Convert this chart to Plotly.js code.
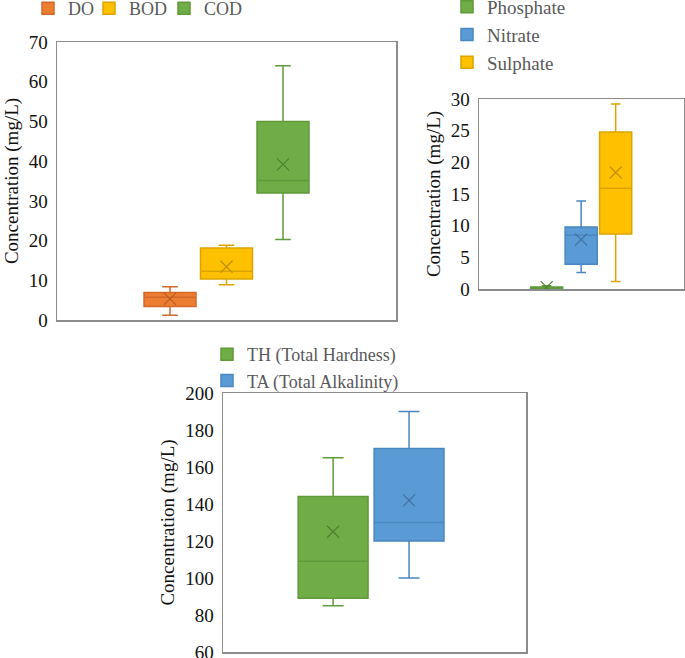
<!DOCTYPE html>
<html>
<head>
<meta charset="utf-8">
<script src="https://cdn.plot.ly/plotly-3.0.1.min.js"></script>
<style>
  html, body { margin: 0; padding: 0; background: #fff; }
  #chart { width: 685px; height: 658px; }
</style>
</head>
<body>
<div id="chart"></div>
<script>
// panel 1 : DO, BOD, COD
const names1 = ["DO", "BOD", "COD"];
const min1 = [1.2, 8.9, 20.3];
const q1_1 = [3.4, 10.3, 32.0];
const med1 = [5.7, 12.3, 35.1];
const q3_1 = [6.9, 18.1, 50.0];
const max1 = [8.4, 18.8, 64.0];
const mean1 = [5.3, 13.4, 39.2];

// panel 2 : anions
const names2 = ["Phosphate", "Nitrate", "Sulphate"];
const min2 = [0.05, 2.6, 1.2];
const q1_2 = [0.1, 3.9, 8.7];
const med2 = [0.2, 8.5, 15.9];
const q3_2 = [0.3, 9.8, 24.8];
const max2 = [0.5, 13.9, 29.2];
const mean2 = [0.3, 7.8, 18.4];

// panel 3 : hardness / alkalinity
const names3 = ["TH (Total Hardness)", "TA (Total Alkalinity)"];
const min3 = [85, 100];
const q1_3 = [89, 120];
const med3 = [109, 130];
const q3_3 = [144, 170];
const max3 = [165, 190];
const mean3 = [125, 142];

const FILL = { DO: "#ED7D31", BOD: "#FFC000", COD: "#70AD47",
               Phosphate: "#70AD47", Nitrate: "#5B9BD5", Sulphate: "#FFC000",
               "TH (Total Hardness)": "#70AD47", "TA (Total Alkalinity)": "#5B9BD5" };
const EDGE = { "#ED7D31": "#D2692A", "#FFC000": "#DDA400", "#70AD47": "#5E9A3A", "#5B9BD5": "#4A86C0" };
const MEANC = { "#ED7D31": "#B85A20", "#FFC000": "#C09000", "#70AD47": "#4E8030", "#5B9BD5": "#3E70A0" };

const SERIF = "Liberation Serif";
const DIV = document.querySelector("#chart");

let data = [];

// legends: one per entry for the top row, so each can sit where the original has it
function addPanel(names, mins, q1s, meds, q3s, maxs, means, xa, ya, legends, width) {
    names.forEach((name, i) => {
        let fill = FILL[name];
        let edge = EDGE[fill];
        data.push({
            type: "box",
            name: name,
            x: [i + 1],
            lowerfence: [mins[i]],
            q1: [q1s[i]],
            median: [meds[i]],
            q3: [q3s[i]],
            upperfence: [maxs[i]],
            width: width,
            whiskerwidth: 0.3,
            fillcolor: fill,
            line: { color: edge, width: 1.5 },
            xaxis: xa, yaxis: ya,
            legend: legends[i],
            hoverinfo: "skip"
        });
        data.push({
            type: "scatter",
            mode: "markers",
            x: [i + 1],
            y: [means[i]],
            marker: { symbol: "x-thin-open", size: 12, color: MEANC[fill], line: { color: MEANC[fill], width: 1.2 } },
            xaxis: xa, yaxis: ya,
            showlegend: false,
            hoverinfo: "skip"
        });
    });
}

addPanel(names1, min1, q1_1, med1, q3_1, max1, mean1, "x", "y", ["legend", "legend4", "legend5"], 0.92);
addPanel(names2, min2, q1_2, med2, q3_2, max2, mean2, "x2", "y2", ["legend2", "legend2", "legend2"], 0.93);
addPanel(names3, min3, q1_3, med3, q3_3, max3, mean3, "x3", "y3", ["legend3", "legend3"], 0.92);

const W = 685, H = 658;
const dx = (a, b) => [a / W, b / W];
const dy = (top, bottom) => [1 - bottom / H, 1 - top / H];

function xAxis(domain, range, anchor) {
    return {
        domain: domain, range: range, anchor: anchor,
        showticklabels: false, showgrid: false, zeroline: false,
        showline: true, mirror: true, linecolor: "#8C8C8C", linewidth: 1.5,
        ticks: "", fixedrange: true
    };
}
function yAxis(domain, range, dtick, anchor) {
    return {
        domain: domain, range: range, dtick: dtick, anchor: anchor,
        showgrid: false, zeroline: false,
        showline: true, mirror: true, linecolor: "#8C8C8C", linewidth: 1.5,
        ticks: "", ticklabelstandoff: 4, ticklabeloverflow: "allow",
        tickfont: { family: SERIF, size: 19, color: "#111" },
        title: { text: "Concentration (mg/L)", font: { family: SERIF, size: 19, color: "#111" }, standoff: 5 },
        fixedrange: true
    };
}

const legendFont = { family: SERIF, size: 19, color: "#595959" };
function topLegend(px) {
    return {
        orientation: "h", x: px / W, y: 1 + 10 / H, xanchor: "left", yanchor: "top",
        font: { family: SERIF, size: 18, color: "#595959" }, bgcolor: "rgba(0,0,0,0)", itemwidth: 30
    };
}

let layout = {
    width: W, height: H,
    margin: { l: 0, r: 0, t: 0, b: 0, autoexpand: false },
    paper_bgcolor: "#fff", plot_bgcolor: "#fff",
    boxmode: "overlay",
    hovermode: false,
    xaxis: xAxis(dx(57, 396), [-1, 5], "y"),
    yaxis: yAxis(dy(42, 320), [0, 70], 10, "x"),
    xaxis2: xAxis(dx(479, 684), [-0.96, 4.98], "y2"),
    yaxis2: yAxis(dy(99, 289), [0, 30], 5, "x2"),
    xaxis3: xAxis(dx(223, 526), [-0.45, 3.54], "y3"),
    yaxis3: yAxis(dy(393, 652), [60, 200], 20, "x3"),
    legend: topLegend(28),
    legend4: topLegend(89),
    legend5: topLegend(164),
    legend2: {
        orientation: "v", x: 447 / W, y: 1 + 12 / H, xanchor: "left", yanchor: "top",
        font: legendFont, bgcolor: "rgba(0,0,0,0)", itemwidth: 30
    },
    legend3: {
        orientation: "v", x: 207 / W, y: 1 - 336 / H, xanchor: "left", yanchor: "top",
        font: { family: SERIF, size: 18, color: "#595959" }, bgcolor: "rgba(0,0,0,0)", itemwidth: 30
    }
};

Plotly.newPlot(DIV, data, layout, { staticPlot: true, displayModeBar: false });
</script>
</body>
</html>
